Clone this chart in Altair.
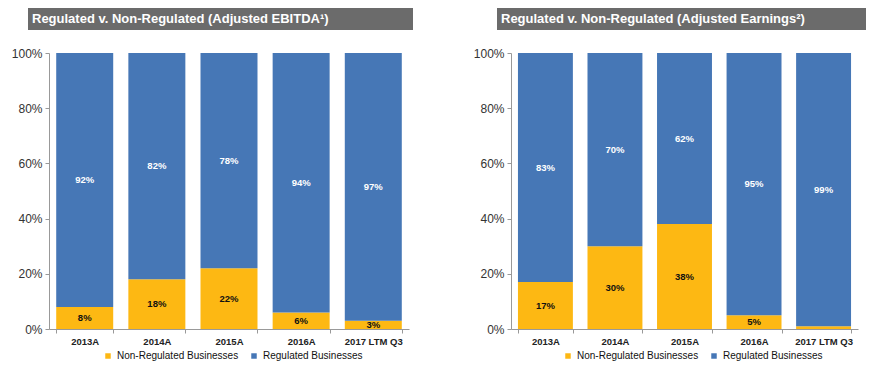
import altair as alt
import pandas as pd

years = ["2013A", "2014A", "2015A", "2016A", "2017 LTM Q3"]
series = ["Non-Regulated Businesses", "Regulated Businesses"]
ebitda_nonreg = [8, 18, 22, 6, 3]
ebitda_reg = [92, 82, 78, 94, 97]
earn_nonreg = [17, 30, 38, 5, 1]
earn_reg = [83, 70, 62, 95, 99]
earn_label_show_nonreg = [True, True, True, True, False]
titles = ["Regulated v. Non-Regulated (Adjusted EBITDA¹)",
          "Regulated v. Non-Regulated (Adjusted Earnings²)"]

BLUE = "#4677b6"
GOLD = "#fdb813"
FONT = "Liberation Sans"


def make_df(nonreg, reg, show_nonreg=None):
    rows = []
    for i, y in enumerate(years):
        rows.append({"year": y, "series": series[0], "value": nonreg[i], "ord": 0,
                     "show": True if show_nonreg is None else show_nonreg[i]})
        rows.append({"year": y, "series": series[1], "value": reg[i], "ord": 1, "show": True})
    return pd.DataFrame(rows)


def panel(df, title, width, bar_x0, bar_x1, legend_x):
    base = alt.Chart(df).transform_stack(
        stack="value", groupby=["year"], as_=["y0", "y1"],
        sort=[alt.SortField("ord", order="ascending")]
    ).transform_calculate(mid="(datum.y0 + datum.y1) / 2")

    xenc = alt.X("year:N", sort=years, title=None,
                 scale=alt.Scale(paddingInner=0.21, paddingOuter=0.1),
                 axis=alt.Axis(labelAngle=0, labelFont=FONT, labelFontSize=9.5,
                               labelFontWeight="bold", labelColor="#222",
                               domainColor="#999", tickColor="#999", tickBand="extent",
                               tickSize=4, labelPadding=3))
    color = alt.Color("series:N", scale=alt.Scale(domain=series, range=[GOLD, BLUE]),
                      legend=alt.Legend(orient="none", legendX=legend_x, legendY=298,
                                        direction="horizontal", title=None, symbolType="square",
                                        symbolSize=30, labelFont=FONT, labelFontSize=10,
                                        labelColor="#111", columnPadding=10,
                                        symbolStrokeWidth=0, labelLimit=300))

    bars = base.mark_bar().encode(
        x=xenc,
        y=alt.Y("y0:Q", scale=alt.Scale(domain=[0, 100], nice=False), title=None,
                axis=alt.Axis(values=[0, 20, 40, 60, 80, 100], labelExpr="datum.value + '%'",
                              grid=False, labelFont=FONT, labelFontSize=12, labelColor="#333",
                              domainColor="#999", tickColor="#999", tickSize=4, labelPadding=3)),
        y2="y1:Q",
        color=color,
        order=alt.Order("ord:Q"),
    )
    labels = base.transform_filter("datum.show").transform_calculate(
        txt="datum.value + '%'"
    ).mark_text(font=FONT, fontSize=9.5, fontWeight="bold").encode(
        x=alt.X("year:N", sort=years),
        y=alt.Y("mid:Q"),
        text="txt:N",
        color=alt.condition("datum.ord == 1", alt.value("white"), alt.value("#111")),
    )

    bar_df = pd.DataFrame({"t": [title]})
    header = alt.Chart(bar_df).mark_rect(color="#6b6b6b").encode(
        x=alt.value(bar_x0), x2=alt.value(bar_x1), y=alt.value(-45), y2=alt.value(-23))
    header_text = alt.Chart(bar_df).mark_text(
        align="left", baseline="middle", font=FONT, fontSize=13, fontWeight="bold",
        color="white").encode(x=alt.value(bar_x0 + 4), y=alt.value(-34), text="t:N")

    return alt.layer(bars, labels, header, header_text).properties(width=width, height=276)


left = panel(make_df(ebitda_nonreg, ebitda_reg), titles[0], 360, -21, 364, 54)
right = panel(make_df(earn_nonreg, earn_reg, earn_label_show_nonreg), titles[1], 347, -14, 355, 52)

chart = alt.hconcat(left, right, spacing=60).resolve_scale(color="independent").properties(
    padding={"left": 3, "top": 0, "right": 5, "bottom": 2}
).configure_view(stroke=None)

chart.save("out.html", embed_options={"renderer": "svg", "actions": False})
